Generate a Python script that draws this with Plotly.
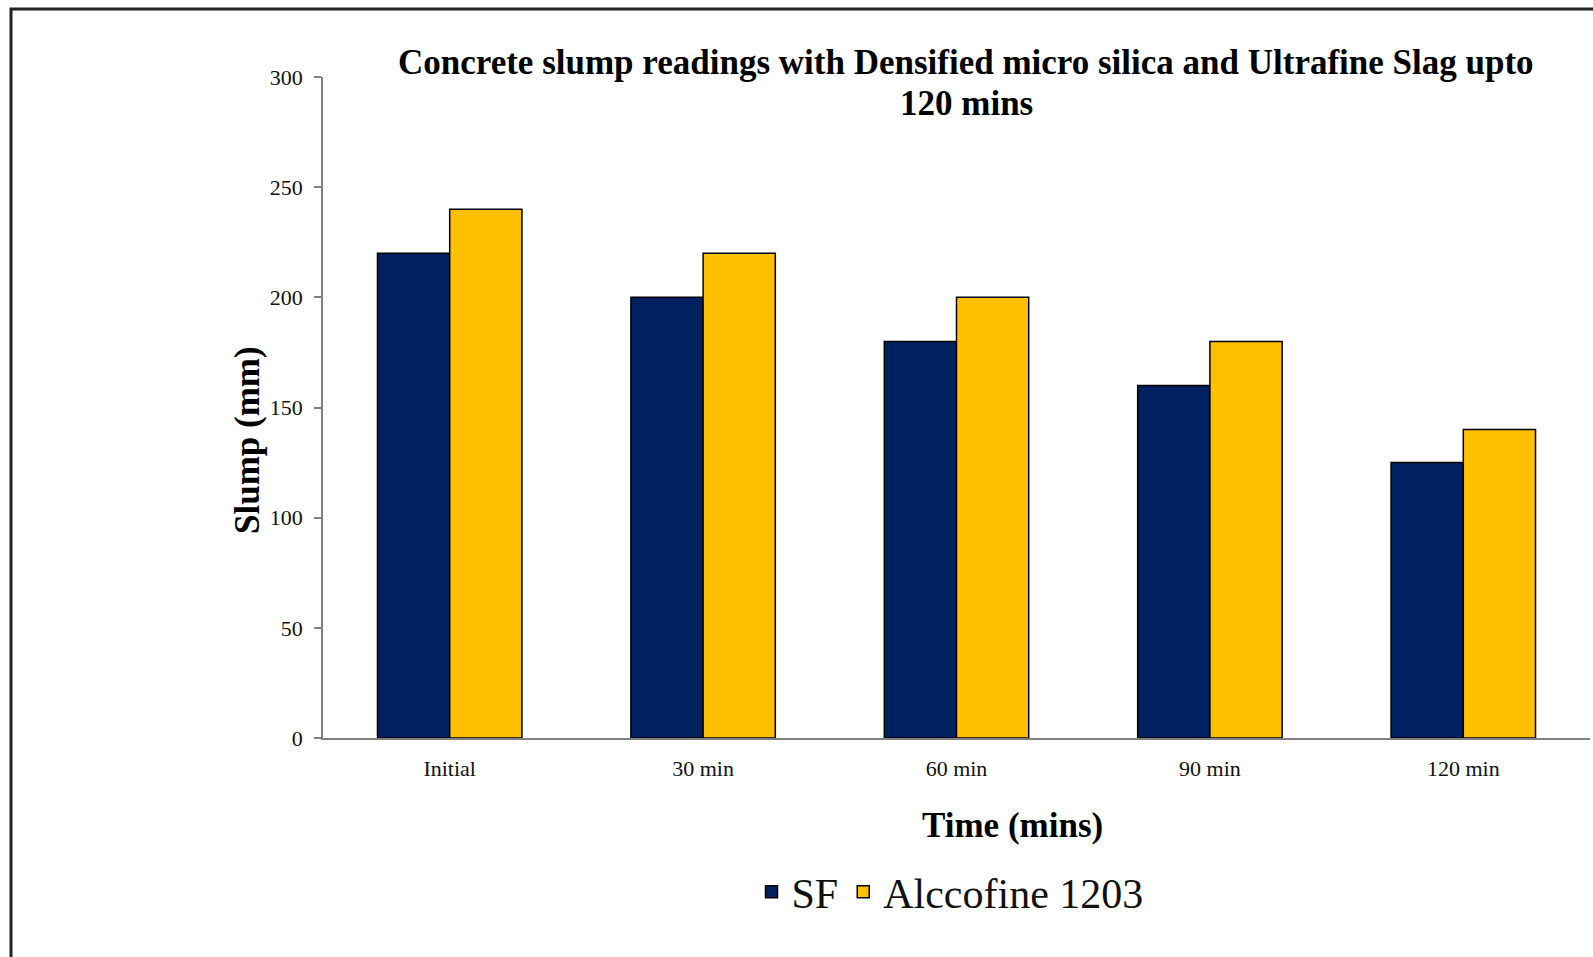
import plotly.graph_objects as go

categories = ["Initial", "30 min", "60 min", "90 min", "120 min"]
sf_values = [220, 200, 180, 160, 125]
alccofine_values = [240, 220, 200, 180, 140]
y_ticks = [0, 50, 100, 150, 200, 250, 300]

W, H = 1593, 957
L, R, T, B = 323, 1590, 77, 738

def px(x):
    return (x - L) / (R - L)

def py(y):
    return (B - y) / (B - T)

FONT = "Liberation Serif"

fig = go.Figure()
fig.add_trace(go.Bar(x=categories, y=sf_values, name="SF",
                     marker=dict(color="#002060", line=dict(color="#000000", width=1.5))))
fig.add_trace(go.Bar(x=categories, y=alccofine_values, name="Alccofine 1203",
                     marker=dict(color="#FFC000", line=dict(color="#000000", width=1.5))))

fig.update_layout(
    width=W, height=H,
    margin=dict(l=L, r=W - R, t=T, b=H - B),
    paper_bgcolor="white", plot_bgcolor="white",
    barmode="group", bargap=0.43, bargroupgap=0,
    font=dict(family=FONT, color="#111111"),
    showlegend=True,
    legend=dict(orientation="h", x=px(950), y=py(892), xanchor="center", yanchor="middle",
                font=dict(size=42, family=FONT), itemwidth=30, bgcolor="rgba(0,0,0,0)"),
    xaxis=dict(showline=True, linecolor="#808080", linewidth=1.5, ticks="",
               tickfont=dict(size=22, family=FONT), ticklabelstandoff=10, showgrid=False),
    yaxis=dict(range=[0, 300], tickvals=y_ticks, showline=True, linecolor="#808080", linewidth=1.5,
               ticks="outside", ticklen=7, tickcolor="#808080", tickwidth=1.5,
               tickfont=dict(size=22, family=FONT), ticklabelstandoff=7, showgrid=False, zeroline=False),
)

title_lines = ["Concrete slump readings with Densified micro silica and Ultrafine Slag upto", "120 mins"]
title_y = [62, 103]
for line, yy in zip(title_lines, title_y):
    fig.add_annotation(text=f"<b>{line}</b>",
                       xref="paper", yref="paper", x=px(966), y=py(yy), xanchor="center", yanchor="middle",
                       showarrow=False, font=dict(size=35, family=FONT, color="#000000"))
fig.add_annotation(text="<b>Slump (mm)</b>", xref="paper", yref="paper", x=px(247), y=py(440),
                   xanchor="center", yanchor="middle", textangle=-90, showarrow=False,
                   font=dict(size=35, family=FONT, color="#000000"))
fig.add_annotation(text="<b>Time (mins)</b>", xref="paper", yref="paper", x=px(1012), y=py(825),
                   xanchor="center", yanchor="middle", showarrow=False,
                   font=dict(size=35, family=FONT, color="#000000"))

fig.add_shape(type="rect", xref="paper", yref="paper",
              x0=px(11), x1=px(1640), y0=py(1000), y1=py(9),
              line=dict(color="#222222", width=3), fillcolor="rgba(0,0,0,0)", layer="above")

fig.write_html("out.html")
